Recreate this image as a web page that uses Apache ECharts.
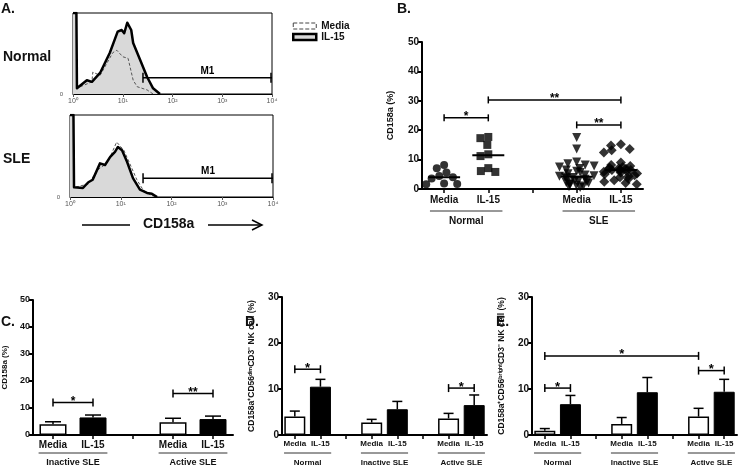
<!DOCTYPE html>
<html><head><meta charset="utf-8">
<script src="https://cdn.jsdelivr.net/npm/echarts@6/dist/echarts.min.js"></script>
<style>html,body{margin:0;padding:0;background:#fff}#c{width:740px;height:467px}</style>
</head><body><div id="c"></div>
<script>
// ---------------- DATA ----------------
// Panel A: flow histograms, [fluorescence, % of max]
const histNormalIL15 = [[1,100],[1.17,100],[1.2,7],[1.9,17],[2.4,15],[3.5,26],[5.5,51],[7.9,77],[9.5,79],[10.7,75],[12.3,88],[14.8,79],[16.2,63],[22.4,42],[30.9,21],[40.7,7],[56,0]];
const histNormalMedia = [[1.4,9],[2.4,15],[2.5,27],[3.5,23],[4.8,38],[6.3,51],[7.6,54],[10,46],[12.8,44],[16.2,17],[19.5,9],[30.9,5],[40.7,0]];
const histSLEIL15 = [[1,100],[1.17,100],[1.2,12],[1.8,11],[2.3,18],[2.8,21],[3.9,41],[4.9,39],[6.2,49],[7.7,55],[8.8,61],[10.6,57],[13.3,43],[17.4,23],[23.9,9],[33,5],[41,4],[52,0]];
const histSLEMedia = [[1.3,12],[2.3,16],[3.5,33],[5,40],[6.5,52],[8.3,67],[11.5,57],[15,41],[20.8,21],[28,8],[40,2],[50,0]];
const gateNormal = [25.5, 10000, 20];   // from, to, height
const gateSLE = [27.5, 10000, 23];
const facsTicks = [1, 10, 100, 1000, 10000];

// Panel B: CD158a (%) per donor
const bCategories = ['Media','IL-15','','Media','IL-15'];
const bNormalMedia = [8.2,7.1,5.6,4.4,4.0,3.6,1.9,1.7,1.6];
const bNormalIL15 = [17.7,17.3,15.0,11.8,11.2,7.1,6.1,5.8];
const bSLEMedia = [17.5,13.6,9.2,8.6,8.2,7.8,7.5,7.0,6.5,6.0,5.6,5.2,4.8,4.5,4.3,4.1,3.9,3.6,3.3,3.0,2.8,2.5,2.2,2.0,1.8,1.5,1.3,1.0,0.8,0.5];
const bSLEIL15 = [15.2,14.8,13.6,13.2,12.4,9.0,8.2,7.8,7.5,7.2,7.0,6.9,6.8,6.6,6.5,6.5,6.3,6.1,5.9,5.6,5.3,5.0,4.7,4.3,4.0,3.5,3.0,2.5,2.0,1.6];
const bBrackets = [[0,1,24.2],[1,4,30.3],[3,4,21.8]];
const bBracketLabels = ['*','**','**'];
const bGroups = [[0,1],[3,4]];
const bGroupNames = ['Normal','SLE'];

// Panel C
const cCategories = ['Media','IL-15','','Media','IL-15'];
const cMeans = [4.0,6.5,null,4.7,5.9];
const cSEM = [0.9,0.9,null,1.5,1.1];
const cBrackets = [[0,1,12.0],[3,4,15.4]];
const cBracketLabels = ['*','**'];
const cGroups = [[0,1],[3,4]];
const cGroupNames = ['Inactive SLE','Active SLE'];

// Panel D
const dCategories = ['Media','IL-15','','Media','IL-15','','Media','IL-15'];
const dMeans = [4.0,10.5,null,2.7,5.6,null,3.6,6.5];
const dSEM = [1.2,1.6,null,0.7,1.7,null,1.1,2.2];
const dBrackets = [[0,1,14.3],[6,7,10.2]];
const dBracketLabels = ['*','*'];

// Panel E
const eCategories = ['Media','IL-15','','Media','IL-15','','Media','IL-15'];
const eMeans = [0.9,6.7,null,2.4,9.3,null,4.0,9.4];
const eSEM = [0.5,1.9,null,1.4,3.2,null,1.8,2.7];
const eBrackets = [[0,6,17.2],[0,1,10.2],[6,7,14.0]];
const eBracketLabels = ['*','*','*'];

const deGroups = [[0,1],[3,4],[6,7]];
const deGroupNames = ['Normal','Inactive SLE','Active SLE'];

// ---------------- HELPERS ----------------
const FONT = '"Liberation Sans", Arial, Helvetica, sans-serif';
const SUP = {0:'\u2070',1:'\u00B9',2:'\u00B2',3:'\u00B3',4:'\u2074'};
function median(a){const s=[...a].sort((x,y)=>x-y);const n=s.length;return n%2?s[(n-1)/2]:(s[n/2-1]+s[n/2])/2;}

function facsX(i){return {type:'log',logBase:10,gridIndex:i,min:1,max:10000,
  axisLine:{lineStyle:{color:'#000',width:1}},
  axisTick:{show:true,length:3,lineStyle:{color:'#555'}},
  minorTick:{show:false},
  axisLabel:{fontSize:7,color:'#555',margin:4,fontFamily:FONT,
    formatter:v=>'10'+SUP[Math.round(Math.log10(v))]},
  splitLine:{show:false}};}
function facsY(i){return {type:'value',gridIndex:i,min:0,max:100,interval:100,
  axisLine:{show:false},axisTick:{show:false},splitLine:{show:false},
  axisLabel:{fontSize:6,color:'#555',margin:10,formatter:v=>v===0?'0':''}};}

function catX(i,cats,fs,margin){return {type:'category',gridIndex:i,data:cats,
  axisLine:{lineStyle:{color:'#000',width:2}},
  axisTick:{show:true,alignWithLabel:true,length:4,lineStyle:{color:'#000',width:1.5}},
  axisLabel:{fontSize:fs,fontWeight:'bold',color:'#111',margin:margin,interval:0,fontFamily:FONT},
  splitLine:{show:false}};}
function valY(i,max,name,nameGap,fs,nfs){return {type:'value',gridIndex:i,min:0,max:max,interval:10,
  name:name,nameLocation:'middle',nameRotate:90,nameGap:nameGap,
  nameTextStyle:{fontSize:nfs,fontWeight:'bold',color:'#111',fontFamily:FONT},
  axisLine:{show:true,lineStyle:{color:'#000',width:2}},
  axisTick:{show:true,length:4,lineStyle:{color:'#000',width:2}},
  axisLabel:{fontSize:fs,fontWeight:'bold',color:'#111',margin:3,fontFamily:FONT},
  splitLine:{show:false}};}

function bracketSeries(ax,data,labels,cap,fs){
  return {type:'custom',xAxisIndex:ax,yAxisIndex:ax,data:data,encode:{x:[0,1],y:2},z:10,silent:true,
    renderItem:function(params,api){
      const a=api.coord([api.value(0),api.value(2)]);
      const b=api.coord([api.value(1),api.value(2)]);
      const st={stroke:'#000',lineWidth:1.5};
      return {type:'group',children:[
        {type:'line',shape:{x1:a[0],y1:a[1],x2:b[0],y2:b[1]},style:st},
        {type:'line',shape:{x1:a[0],y1:a[1]-cap,x2:a[0],y2:a[1]+cap},style:st},
        {type:'line',shape:{x1:b[0],y1:b[1]-cap,x2:b[0],y2:b[1]+cap},style:st},
        {type:'text',x:(a[0]+b[0])/2,y:a[1]-1,style:{text:labels[params.dataIndex],fill:'#000',
          font:'bold '+fs+'px '+FONT,textAlign:'center',textVerticalAlign:'middle'}}
      ]};
    }};
}
function groupSeries(ax,groups,names,lineOff,textOff,ext,fs){
  return {type:'custom',xAxisIndex:ax,yAxisIndex:ax,data:groups.map(g=>[g[0],g[1],0]),encode:{x:[0,1],y:2},silent:true,
    renderItem:function(params,api){
      const a=api.coord([api.value(0),0]);
      const b=api.coord([api.value(1),0]);
      const w=api.size([1,0])[0];
      return {type:'group',children:[
        {type:'line',shape:{x1:a[0]-w*ext,y1:a[1]+lineOff,x2:b[0]+w*ext,y2:a[1]+lineOff},style:{stroke:'#333',lineWidth:1}},
        {type:'text',x:(a[0]+b[0])/2,y:a[1]+textOff,style:{text:names[params.dataIndex],fill:'#111',
          font:'bold '+fs+'px '+FONT,textAlign:'center',textVerticalAlign:'middle'}}
      ]};
    }};
}
function barSeries(ax,cats,means,bw){
  return {type:'bar',xAxisIndex:ax,yAxisIndex:ax,barWidth:bw,silent:true,
    data:means.map((m,i)=>m==null?'-':{value:m,itemStyle:cats[i]==='Media'?{color:'#fff',borderColor:'#000',borderWidth:1.5}:{color:'#000',borderColor:'#000',borderWidth:1}})};
}
function errSeries(ax,means,sem,cap){
  const d=[];means.forEach((m,i)=>{if(m!=null)d.push([i,m,m+sem[i]]);});
  return {type:'custom',xAxisIndex:ax,yAxisIndex:ax,data:d,encode:{x:0,y:[1,2]},z:5,silent:true,
    renderItem:function(params,api){
      const a=api.coord([api.value(0),api.value(1)]);
      const b=api.coord([api.value(0),api.value(2)]);
      const st={stroke:'#000',lineWidth:1.5};
      return {type:'group',children:[
        {type:'line',shape:{x1:a[0],y1:a[1],x2:b[0],y2:b[1]},style:st},
        {type:'line',shape:{x1:b[0]-cap,y1:b[1],x2:b[0]+cap,y2:b[1]},style:st}
      ]};
    }};
}
function gateSeries(ax,gate){
  return {type:'custom',xAxisIndex:ax,yAxisIndex:ax,data:[gate],encode:{x:[0,1],y:2},z:10,silent:true,
    renderItem:function(params,api){
      const a=api.coord([api.value(0),api.value(2)]);
      const b=api.coord([api.value(1),api.value(2)]);
      const st={stroke:'#000',lineWidth:1.5};
      return {type:'group',children:[
        {type:'line',shape:{x1:a[0],y1:a[1],x2:b[0],y2:b[1]},style:st},
        {type:'line',shape:{x1:a[0],y1:a[1]-5,x2:a[0],y2:a[1]+5},style:st},
        {type:'line',shape:{x1:b[0]-1,y1:b[1]-5,x2:b[0]-1,y2:b[1]+5},style:st},
        {type:'text',x:(a[0]+b[0])/2,y:a[1]-7,style:{text:'M1',fill:'#000',font:'bold 10px '+FONT,textAlign:'center',textVerticalAlign:'middle'}}
      ]};
    }};
}
function histSeries(ax,il15,media){
  return [
    {name:'IL-15',type:'line',xAxisIndex:ax,yAxisIndex:ax,data:il15,showSymbol:false,z:1,silent:true,
      lineStyle:{width:0,color:'#000'},areaStyle:{color:'#d9d9d9',opacity:1}},
    {name:'Media',type:'line',xAxisIndex:ax,yAxisIndex:ax,data:media,showSymbol:false,z:2,silent:true,
      lineStyle:{width:1,type:[3,2],color:'#555'}},
    {name:'IL-15',type:'line',xAxisIndex:ax,yAxisIndex:ax,data:il15,showSymbol:false,z:3,silent:true,
      lineStyle:{width:2.5,color:'#000',join:'round'}}
  ];
}

const bPoints = [
  {cat:0,vals:bNormalMedia,symbol:'circle',size:8,rot:0},
  {cat:1,vals:bNormalIL15,symbol:'rect',size:8,rot:0},
  {cat:3,vals:bSLEMedia,symbol:'triangle',size:9,rot:180},
  {cat:4,vals:bSLEIL15,symbol:'diamond',size:10,rot:0}
];
const bMedianData = bPoints.map(p=>[p.cat,median(p.vals)]);

const series = [].concat(
  histSeries(0,histNormalIL15,histNormalMedia),
  histSeries(1,histSLEIL15,histSLEMedia),
  [gateSeries(0,gateNormal),gateSeries(1,gateSLE)],
  bPoints.map(p=>({type:'scatter',xAxisIndex:2,yAxisIndex:2,symbol:p.symbol,symbolSize:p.size,symbolRotate:p.rot,silent:true,
    itemStyle:{color:'#000'},data:p.vals.map(v=>[p.cat,v])})),
  [{type:'custom',xAxisIndex:2,yAxisIndex:2,data:bMedianData,encode:{x:0,y:1},z:8,silent:true,
    renderItem:function(params,api){const c=api.coord([api.value(0),api.value(1)]);
      return {type:'line',shape:{x1:c[0]-16,y1:c[1],x2:c[0]+16,y2:c[1]},style:{stroke:'#000',lineWidth:2}};}}],
  [bracketSeries(2,bBrackets,bBracketLabels,3.5,12), groupSeries(2,bGroups,bGroupNames,22,32,0.32,10)],
  [barSeries(3,cCategories,cMeans,27), errSeries(3,cMeans,cSEM,8), bracketSeries(3,cBrackets,cBracketLabels,4,12), groupSeries(3,cGroups,cGroupNames,18,28,0.36,9)],
  [barSeries(4,dCategories,dMeans,21), errSeries(4,dMeans,dSEM,5), bracketSeries(4,dBrackets,dBracketLabels,4,13), groupSeries(4,deGroups,deGroupNames,18,28,0.42,8)],
  [barSeries(5,eCategories,eMeans,21), errSeries(5,eMeans,eSEM,5), bracketSeries(5,eBrackets,eBracketLabels,4,13), groupSeries(5,deGroups,deGroupNames,18,28,0.42,8)]
);

const tStyle = fs=>({fontSize:fs,fontWeight:'bold',color:'#111',fontFamily:FONT});
const option = {
  animation:false,
  backgroundColor:'#fff',
  textStyle:{fontFamily:FONT},
  title:[
    {text:'A.',left:1,top:2,padding:0,textStyle:tStyle(14)},
    {text:'Normal',left:3,top:50,padding:0,textStyle:tStyle(14)},
    {text:'SLE',left:3,top:152,padding:0,textStyle:tStyle(14)},
    {text:'CD158a',left:143,top:217,padding:0,textStyle:tStyle(14)},
    {text:'B.',left:397,top:2,padding:0,textStyle:tStyle(14)},
    {text:'C.',left:1,top:315,padding:0,textStyle:tStyle(14)},
    {text:'D.',left:245,top:315,padding:0,textStyle:tStyle(14)},
    {text:'E.',left:496,top:315,padding:0,textStyle:tStyle(14)}
  ],
  legend:{left:287,top:16,orient:'vertical',itemWidth:23,itemHeight:6,itemGap:1,selectedMode:false,
    textStyle:{fontSize:10,fontWeight:'bold',color:'#111',fontFamily:FONT},
    data:[
      {name:'Media',icon:'rect',itemStyle:{color:'#fff',borderColor:'#444',borderWidth:1,borderType:'dashed'}},
      {name:'IL-15',icon:'rect',itemStyle:{color:'#d9d9d9',borderColor:'#000',borderWidth:2.5}}
    ]},
  grid:[
    {left:73,top:13,width:199,height:81,show:true,borderColor:'#000',borderWidth:1,backgroundColor:'transparent'},
    {left:70,top:115,width:203,height:82,show:true,borderColor:'#000',borderWidth:1,backgroundColor:'transparent'},
    {left:422,top:42,width:221,height:147},
    {left:31,top:300,width:202,height:135},
    {left:282,top:297,width:205,height:138},
    {left:532,top:297,width:205,height:138}
  ],
  xAxis:[
    facsX(0),facsX(1),
    Object.assign(catX(2,bCategories,10,6),{jitter:44,jitterOverlap:false,jitterMargin:0}),
    catX(3,cCategories,10,5),
    catX(4,dCategories,8,5),
    catX(5,eCategories,8,5)
  ],
  yAxis:[
    facsY(0),facsY(1),
    valY(2,50,'CD158a (%)',27,10,9),
    valY(3,50,'CD158a (%)',24,9,8),
    valY(4,30,'CD158a\u207ACD56\u1D48\u2071\u1D50CD3\u207B NK cell (%)',26,10,8.5),
    valY(5,30,'CD158a\u207ACD56\u1D47\u02B3\u2071\u1D4D\u02B0\u1D57CD3\u207B NK cell (%)',26,10,8.5)
  ],
  graphic:[
    {type:'line',shape:{x1:82,y1:225,x2:130,y2:225},style:{stroke:'#000',lineWidth:1.5}},
    {type:'line',shape:{x1:208,y1:225,x2:261,y2:225},style:{stroke:'#000',lineWidth:1.5}},
    {type:'polyline',shape:{points:[[252,220],[262,225],[252,230]]},style:{stroke:'#000',lineWidth:1.5,fill:null}}
  ],
  series:series
};
const chart = echarts.init(document.getElementById('c'),null,{renderer:'canvas'});
chart.setOption(option);
</script></body></html>
